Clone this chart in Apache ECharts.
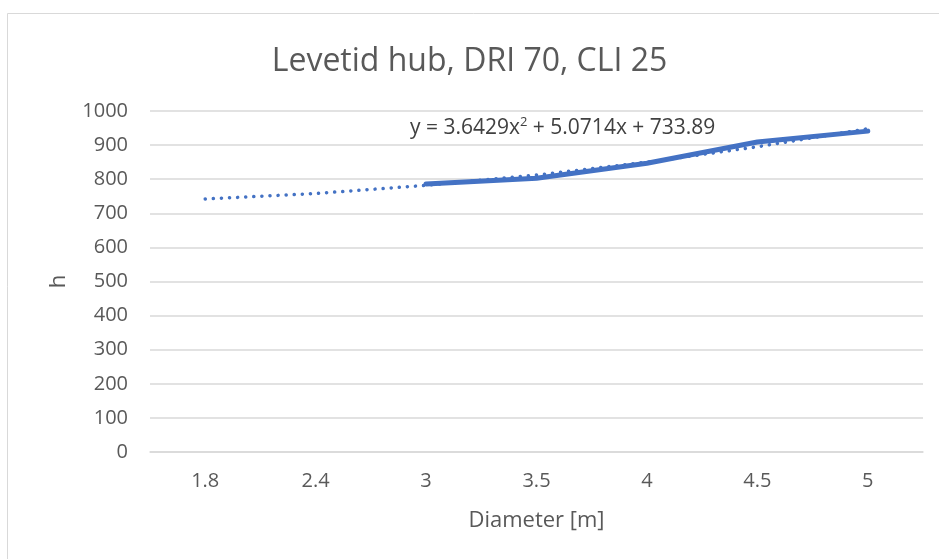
<!DOCTYPE html>
<html><head><meta charset="utf-8">
<script src="https://cdn.jsdelivr.net/npm/echarts@6/dist/echarts.min.js"></script>
<style>html,body{margin:0;padding:0;background:#fff}#c{width:939px;height:559px}</style>
</head><body><div id="c"></div>
<script>
const categories = ['1.8','2.4','3','3.5','4','4.5','5'];
const hours = [null, null, 786, 803, 847, 909, 941];
const trendline = [742, 758, 782, 812, 850, 895, 948];
const yTicks = [0, 100, 200, 300, 400, 500, 600, 700, 800, 900, 1000];
const titleText = 'Levetid hub, DRI 70, CLI 25';
const equation = 'y = 3.6429x{sup|2} + 5.0714x + 733.89';

const FONT = 'Open Sans';
const chart = echarts.init(document.getElementById('c'), null, {renderer:'canvas'});
chart.setOption({
  animation:false,
  backgroundColor:'#fff',
  title:{text:titleText,left:'center',top:41,textStyle:{fontFamily:FONT,fontSize:32,fontWeight:'normal',color:'#595959'}},
  grid:{left:150,right:16,top:111,bottom:107},
  graphic:[
    {type:'polyline',shape:{points:[[7.5,600],[7.5,13.5],[960,13.5]]},style:{stroke:'#d9d9d9',lineWidth:1,fill:null}},
    {type:'text',left:410,top:116,style:{rich:{sup:{fontSize:13,verticalAlign:'top',padding:[0,0,12,0],fontFamily:FONT,fill:'#404040'}},text:equation,font:'21px "Open Sans"',fill:'#404040'}}
  ],
  xAxis:{type:'category',data:categories,boundaryGap:true,
    name:'Diameter [m]',nameLocation:'middle',nameGap:58,
    nameTextStyle:{fontFamily:FONT,fontSize:22,color:'#595959'},
    axisLine:{lineStyle:{color:'#d9d9d9',width:1.5}},axisTick:{show:false},
    axisLabel:{fontFamily:FONT,fontSize:20,color:'#595959',margin:19}},
  yAxis:{type:'value',min:yTicks[0],max:yTicks[yTicks.length-1],interval:100,
    name:'h',nameLocation:'middle',nameGap:80,nameRotate:90,
    nameTextStyle:{fontFamily:FONT,fontSize:22,color:'#595959'},
    axisLine:{show:false},axisTick:{show:false},
    splitLine:{lineStyle:{color:'#d9d9d9',width:1.5}},
    axisLabel:{fontFamily:FONT,fontSize:20,color:'#595959',margin:22,formatter:v=>String(v)}},
  series:[
    {type:'line',data:trendline,symbol:'none',z:2,
      lineStyle:{color:'#4472c4',width:3.5,type:[0.1,8],cap:'round'}},
    {type:'line',data:hours,symbol:'none',connectNulls:false,z:3,
      lineStyle:{color:'#4472c4',width:5,cap:'round'}}
  ]
});
</script></body></html>
